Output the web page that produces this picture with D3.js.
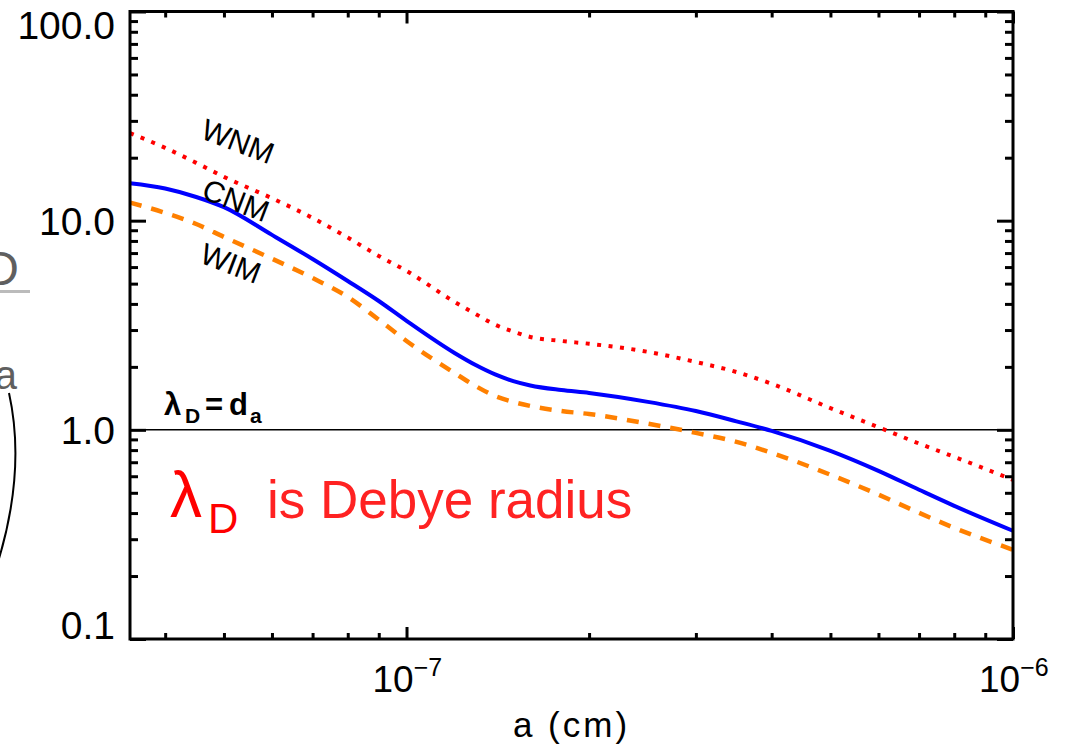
<!DOCTYPE html>
<html>
<head>
<meta charset="utf-8">
<script src="https://cdn.jsdelivr.net/npm/d3@7"></script>
<style>
  body { margin: 0; background: #fff; }
  svg { display: block; font-family: "Liberation Sans", Arial, sans-serif; }
</style>
</head>
<body>
<div id="chart"></div>
<script>
// grain size a (cm)
var sizes = [3.5e-8, 4e-8, 4.5e-8, 5e-8, 6e-8, 7e-8, 8e-8, 9e-8, 1e-7, 1.2e-7, 1.3e-7, 1.4e-7, 1.5e-7,
             1.6e-7, 1.8e-7, 2e-7, 2.5e-7, 3e-7, 3.5e-7, 4e-7, 5e-7, 6e-7, 7e-7, 8e-7, 1e-6];
// lambda_D / d_a for each phase
var wnm = [26.2, 22.3, 18.9, 16.2, 12.8, 10.3, 8.3, 6.78, 5.75, 4.09, 3.58, 3.18, 2.95,
           2.78, 2.66, 2.58, 2.36, 2.11, 1.89, 1.66, 1.27, 1.03, 0.86, 0.743, 0.577];
var cnm = [15.1, 14.25, 12.98, 11.6, 8.55, 6.56, 5.15, 4.13, 3.32, 2.33, 2.04, 1.84, 1.71,
           1.63, 1.55, 1.50, 1.36, 1.23, 1.098, 0.989, 0.794, 0.637, 0.517, 0.433, 0.329];
var wim = [12.2, 10.9, 9.64, 8.36, 6.58, 5.32, 4.32, 3.36, 2.66, 1.87, 1.62, 1.45, 1.36,
           1.30, 1.23, 1.19, 1.07, 0.967, 0.876, 0.776, 0.61, 0.49, 0.401, 0.34, 0.267];

var yMajor = [0.1, 1, 10, 100];
var yLabels = ["0.1", "1.0", "10.0", "100.0"];
var xMajor = [1e-7, 1e-6];
var xExp = ["\u22127", "\u22126"];

var margin = {top: 11.5, left: 130, right: 59, bottom: 108},
    W = 1072, H = 747,
    width = W - margin.left - margin.right,
    height = H - margin.top - margin.bottom;

var x = d3.scaleLog().domain([3.5e-8, 1e-6]).range([0, width]);
var y = d3.scaleLog().domain([0.1, 100]).range([height, 0]);

var svg = d3.select("#chart").append("svg")
  .attr("width", W)
  .attr("height", H);

// bits of a neighbouring figure cut off at the left edge
svg.append("text").attr("x", 19).attr("y", 285).attr("text-anchor", "end")
  .style("font-size", "48px").style("fill", "#444").style("opacity", 0.85).text("D");
svg.append("line").attr("x1", 0).attr("x2", 30).attr("y1", 291.5).attr("y2", 291.5)
  .style("stroke", "#bbb").style("stroke-width", 3);
svg.append("text").attr("x", 17).attr("y", 389).attr("text-anchor", "end")
  .style("font-size", "40px").style("fill", "#444").style("opacity", 0.85).text("a");
svg.append("path").attr("d", "M9,393 Q26,470 -2,562")
  .style("fill", "none").style("stroke", "#000").style("stroke-width", 2);

var g = svg.append("g").attr("transform", "translate(" + margin.left + "," + margin.top + ")");

// lambda_D = d_a reference line
g.append("line")
  .attr("x1", 0).attr("x2", width)
  .attr("y1", y(1)).attr("y2", y(1))
  .style("stroke", "#000").style("stroke-width", 1.5);

var line = d3.line()
  .x(function(d) { return x(d[0]); })
  .y(function(d) { return y(d[1]); })
  .curve(d3.curveMonotoneX);

var series = [
  {vals: wnm, color: "#ff0000", width: 4, dash: "4,7.5"},
  {vals: wim, color: "#ff8000", width: 4.5, dash: "12,10"},
  {vals: cnm, color: "#0000ff", width: 4, dash: null}
];

series.forEach(function(s) {
  g.append("path")
    .datum(sizes.map(function(a, i) { return [a, s.vals[i]]; }))
    .attr("d", line)
    .style("fill", "none")
    .style("stroke", s.color)
    .style("stroke-width", s.width)
    .style("stroke-dasharray", s.dash);
});

// axes: ticks inward on all four sides
var yMinor = [], xMinor = [];
[0.1, 1, 10].forEach(function(d) { for (var k = 2; k < 10; k++) yMinor.push(d * k); });
[1e-8, 1e-7].forEach(function(d) {
  for (var k = 2; k < 10; k++) if (d * k > 3.5e-8 && d * k < 1e-6) xMinor.push(d * k);
});

function tickStyle(sel) {
  sel.select(".domain").remove();
  sel.selectAll(".tick line").style("stroke", "#000").style("stroke-width", 3);
  sel.selectAll(".tick text").remove();
}

g.append("g").call(d3.axisLeft(y).tickValues(yMajor).tickSizeInner(-16).tickSizeOuter(0)).call(tickStyle);
g.append("g").call(d3.axisLeft(y).tickValues(yMinor).tickSizeInner(-8).tickSizeOuter(0)).call(tickStyle);
g.append("g").attr("transform", "translate(" + width + ",0)")
  .call(d3.axisRight(y).tickValues(yMajor).tickSizeInner(-16).tickSizeOuter(0)).call(tickStyle);
g.append("g").attr("transform", "translate(" + width + ",0)")
  .call(d3.axisRight(y).tickValues(yMinor).tickSizeInner(-8).tickSizeOuter(0)).call(tickStyle);
g.append("g").attr("transform", "translate(0," + height + ")")
  .call(d3.axisBottom(x).tickValues(xMajor).tickSizeInner(-12).tickSizeOuter(0)).call(tickStyle);
g.append("g").attr("transform", "translate(0," + height + ")")
  .call(d3.axisBottom(x).tickValues(xMinor).tickSizeInner(-6).tickSizeOuter(0)).call(tickStyle);
g.append("g").call(d3.axisTop(x).tickValues(xMajor).tickSizeInner(-12).tickSizeOuter(0)).call(tickStyle);
g.append("g").call(d3.axisTop(x).tickValues(xMinor).tickSizeInner(-6).tickSizeOuter(0)).call(tickStyle);

g.append("rect")
  .attr("width", width).attr("height", height)
  .style("fill", "none").style("stroke", "#000").style("stroke-width", 3);

// y tick labels (end labels kept inside the frame)
yMajor.forEach(function(v, i) {
  var shift = i == 0 ? -14 : (i == yMajor.length - 1 ? 13 : 0);
  g.append("text")
    .attr("x", -15)
    .attr("y", y(v) + shift)
    .attr("dy", "0.36em")
    .attr("text-anchor", "end")
    .style("font-size", "39px")
    .text(yLabels[i]);
});

// x tick labels 10^n
xMajor.forEach(function(v, i) {
  var t = g.append("text")
    .attr("x", x(v) - 34)
    .attr("y", height + 53)
    .style("font-size", "37px");
  t.append("tspan").text("10");
  t.append("tspan").attr("dy", -16).style("font-size", "25px").text(xExp[i]);
});

svg.append("text")
  .attr("x", margin.left + width / 2)
  .attr("y", 737)
  .attr("text-anchor", "middle")
  .style("font-size", "35px")
  .style("letter-spacing", "3px")
  .text("a (cm)");

// curve labels
var names = [
  {t: "WNM", cx: 238, cy: 141},
  {t: "CNM", cx: 236, cy: 200},
  {t: "WIM", cx: 231, cy: 263}
];
names.forEach(function(n) {
  svg.append("text")
    .attr("transform", "translate(" + n.cx + "," + n.cy + ") rotate(21)")
    .attr("text-anchor", "middle")
    .attr("dy", "0.36em")
    .style("font-size", "30px")
    .text(n.t);
});

// lambda_D = d_a
var lab = svg.append("text").attr("y", 415).style("font-size", "31px").style("font-weight", "bold");
lab.append("tspan").attr("x", 164).text("\u03bb");
lab.append("tspan").attr("x", 185).attr("dy", 8).style("font-size", "21px").text("D");
lab.append("tspan").attr("x", 205).attr("dy", -8).text("=");
lab.append("tspan").attr("x", 229).text("d");
lab.append("tspan").attr("x", 250).attr("dy", 8).style("font-size", "21px").text("a");

// red note
svg.append("text").attr("x", 170).attr("y", 517)
  .style("font-size", "64px").style("fill", "#ff0000").text("\u03bb");
svg.append("text").attr("x", 208).attr("y", 533)
  .style("font-size", "42px").style("fill", "#ff0000").text("D");
svg.append("text").attr("x", 267).attr("y", 518)
  .style("font-size", "53px").style("fill", "#ff2222").text("is Debye radius");
</script>
</body>
</html>
